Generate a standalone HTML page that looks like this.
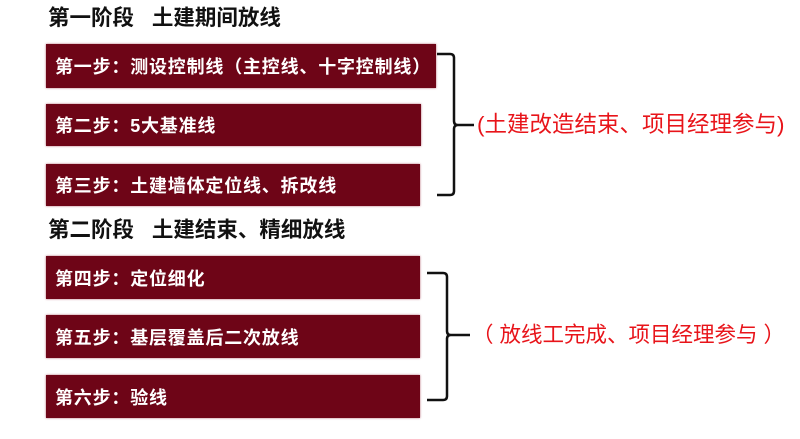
<!DOCTYPE html>
<html><head><meta charset="utf-8"><style>
body{margin:0;width:800px;height:439px;background:#fff;position:relative;overflow:hidden;font-family:"Liberation Sans","Noto Sans CJK SC",sans-serif}
.h{position:absolute;left:48px;font-size:21.5px;font-weight:bold;color:#111;line-height:26px;white-space:nowrap}
.b{position:absolute;left:46px;background:#6e0517;color:#fff;font-size:18px;font-weight:bold;box-sizing:border-box;padding-left:9px;display:flex;align-items:center;box-shadow:0 0 2px #b06070;white-space:nowrap;letter-spacing:0.8px}
.r{position:absolute;color:#e8141a;font-size:22.5px;line-height:26px;white-space:nowrap}
</style></head><body>
<div class="h" style="top:5px">第一阶段&nbsp;&nbsp;&nbsp;土建期间放线</div>
<div class="b" style="top:44px;width:390px;height:44px">第一步：测设控制线（主控线、十字控制线）</div>
<div class="b" style="top:104px;width:375px;height:42px">第二步：5大基准线</div>
<div class="b" style="top:164px;width:374px;height:42px">第三步：土建墙体定位线、拆改线</div>
<div class="h" style="top:217px">第二阶段&nbsp;&nbsp;&nbsp;土建结束、精细放线</div>
<div class="b" style="top:256px;width:374px;height:43px">第四步：定位细化</div>
<div class="b" style="top:315px;width:374px;height:43px">第五步：基层覆盖后二次放线</div>
<div class="b" style="top:375px;width:374px;height:43px">第六步：验线</div>
<svg width="800" height="439" style="position:absolute;left:0;top:0" fill="none" stroke="#111" stroke-width="2.5">
<path d="M437 54 H450 Q454 54 454 58 V121 Q454 125 458 125 H474 M458 125 Q454 125 454 129 V191 Q454 195 450 195 H437"/>
<path d="M427 273 H443 Q447 273 447 277 V331 Q447 335 451 335 H470 M451 335 Q447 335 447 339 V396 Q447 400 443 400 H427"/>
</svg>
<div class="r" style="left:477px;top:112px">(土建改造结束、项目经理参与)</div>
<div class="r" style="left:472px;top:322px;font-size:21.5px">（ 放线工完成、项目经理参与 ）</div>
</body></html>
